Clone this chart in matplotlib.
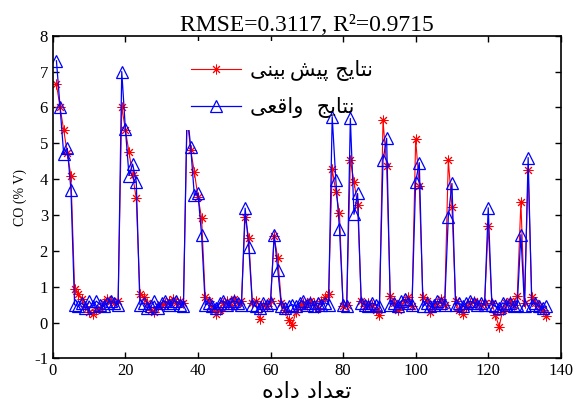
import numpy as np
import matplotlib
matplotlib.use('Agg')
import matplotlib.pyplot as plt
import matplotlib.patches as patches

plt.rcParams['axes.unicode_minus'] = False
plt.rcParams['font.family'] = ['Liberation Serif', 'DejaVu Serif']

# measured (blue) and predicted (red) CO values, samples 1..136
actual = [7.30, 6.00, 4.70, 4.86, 3.70, 0.50, 0.45, 0.55, 0.40, 0.60,
          0.45, 0.60, 0.50, 0.45, 0.55, 0.60, 0.55, 0.50, 7.00, 5.40,
          4.10, 4.42, 3.93, 0.50, 0.55, 0.40, 0.45, 0.60, 0.40, 0.55,
          0.60, 0.50, 0.55, 0.60, 0.50, 0.45, 5.90, 4.90, 3.55, 3.60,
          2.45, 0.50, 0.55, 0.45, 0.40, 0.55, 0.60, 0.50, 0.55, 0.60,
          0.55, 0.50, 3.19, 2.12, 0.50, 0.45, 0.40, 0.55, 0.50, 0.55,
          2.44, 1.47, 0.45, 0.40, 0.45, 0.50, 0.45, 0.55, 0.60, 0.50,
          0.55, 0.45, 0.55, 0.50, 0.55, 0.50, 5.74, 3.97, 2.62, 0.50,
          0.45, 5.69, 3.02, 3.60, 0.55, 0.50, 0.45, 0.55, 0.50, 0.45,
          4.53, 5.14, 0.50, 0.55, 0.45, 0.60, 0.65, 0.55, 0.50, 3.93,
          4.46, 0.45, 0.55, 0.45, 0.50, 0.60, 0.55, 0.50, 2.95, 3.88,
          0.50, 0.55, 0.45, 0.55, 0.60, 0.55, 0.50, 0.55, 0.50, 3.20,
          0.50, 0.45, 0.40, 0.55, 0.50, 0.55, 0.45, 0.50, 2.45, 0.45,
          4.60, 0.50, 0.55, 0.45, 0.40, 0.45]
predicted = [6.64, 6.00, 5.37, 4.72, 4.09, 0.93, 0.80, 0.65, 0.45, 0.30,
             0.25, 0.35, 0.40, 0.55, 0.65, 0.60, 0.55, 0.60, 6.02, 5.37,
             4.75, 4.11, 3.46, 0.80, 0.70, 0.55, 0.35, 0.30, 0.45, 0.50,
             0.55, 0.60, 0.65, 0.55, 0.60, 0.55, 5.70, 4.81, 4.20, 3.51,
             2.92, 0.70, 0.60, 0.40, 0.25, 0.35, 0.55, 0.60, 0.50, 0.65,
             0.55, 0.60, 2.95, 2.36, 0.55, 0.60, 0.10, 0.50, 0.45, 0.60,
             2.40, 1.79, 0.55, 0.35, 0.08, -0.06, 0.30, 0.45, 0.55, 0.50,
             0.60, 0.55, 0.40, 0.60, 0.70, 0.80, 4.28, 3.65, 3.05, 0.45,
             0.50, 4.53, 3.93, 3.28, 0.60, 0.45, 0.55, 0.50, 0.35, 0.21,
             5.64, 4.36, 0.75, 0.55, 0.35, 0.50, 0.60, 0.70, 0.45, 5.11,
             3.81, 0.70, 0.60, 0.30, 0.45, 0.55, 0.65, 0.50, 4.53, 3.23,
             0.60, 0.35, 0.25, 0.45, 0.55, 0.60, 0.55, 0.50, 0.55, 2.69,
             0.55, 0.20, -0.12, 0.35, 0.55, 0.60, 0.50, 0.75, 3.35, 0.55,
             4.25, 0.72, 0.55, 0.45, 0.35, 0.17]
samples = np.arange(1, len(actual) + 1)

title_text = 'RMSE=0.3117, R\u00b2=0.9715'
# Persian labels, pre-shaped (presentation forms, visual order)
label_pred = '\ufbfd\ufee8\ufbff\ufe91\u2009\ufeb6\ufbff\ufb58 \ufe9e\ufbfe\ufe8e\ufe98\ufee7'
label_real = '\ufbfd\ufecc\ufed7\ufe8d\ufeed  \ufe9e\ufbfe\ufe8e\ufe98\ufee7'
xlabel_text = '\ufee9\ufea9\ufe8d\ufea9 \ufea9\ufe8d\ufeaa\ufecc\ufe97'

fig = plt.figure(figsize=(5.74, 4.05), dpi=100)
ax = fig.add_axes([0.092, 0.115, 0.885, 0.797])

ax.plot(samples, predicted, 'r-', marker=(8, 2, 0), lw=0.8, ms=7, mew=0.7, label=label_pred)
ax.plot(samples, actual, 'b-^', lw=0.9, ms=9, mew=0.9, mfc='none', label=label_real)

ax.set_xlim(0, 140)
ax.set_ylim(-1, 8)
ax.set_xticks(np.arange(0, 141, 20))
ax.set_yticks(np.arange(-1, 9, 1))
ax.tick_params(direction='in', top=True, right=True, labelsize=12, length=4, width=1)
for s in ax.spines.values():
    s.set_linewidth(1.2)

ax.set_title(title_text, fontsize=17, pad=3)
ax.set_ylabel('CO (% V)', fontsize=10, labelpad=5)
ax.set_xlabel(xlabel_text, fontsize=16, family=['DejaVu Sans'], labelpad=2)

# white legend box (narrower than its text, like the original)
box = patches.Rectangle((0.245, 0.707), 0.275, 0.275, transform=ax.transAxes,
                        facecolor='white', edgecolor='none', zorder=4)
ax.add_patch(box)

leg = ax.legend(loc='upper left', bbox_to_anchor=(0.24, 0.975), frameon=False,
                prop={'family': ['DejaVu Sans'], 'size': 15}, handlelength=2.4,
                handletextpad=0.4, labelspacing=0.75, borderpad=0.3)
leg.set_zorder(5)

fig.savefig('out.png', dpi=100)
